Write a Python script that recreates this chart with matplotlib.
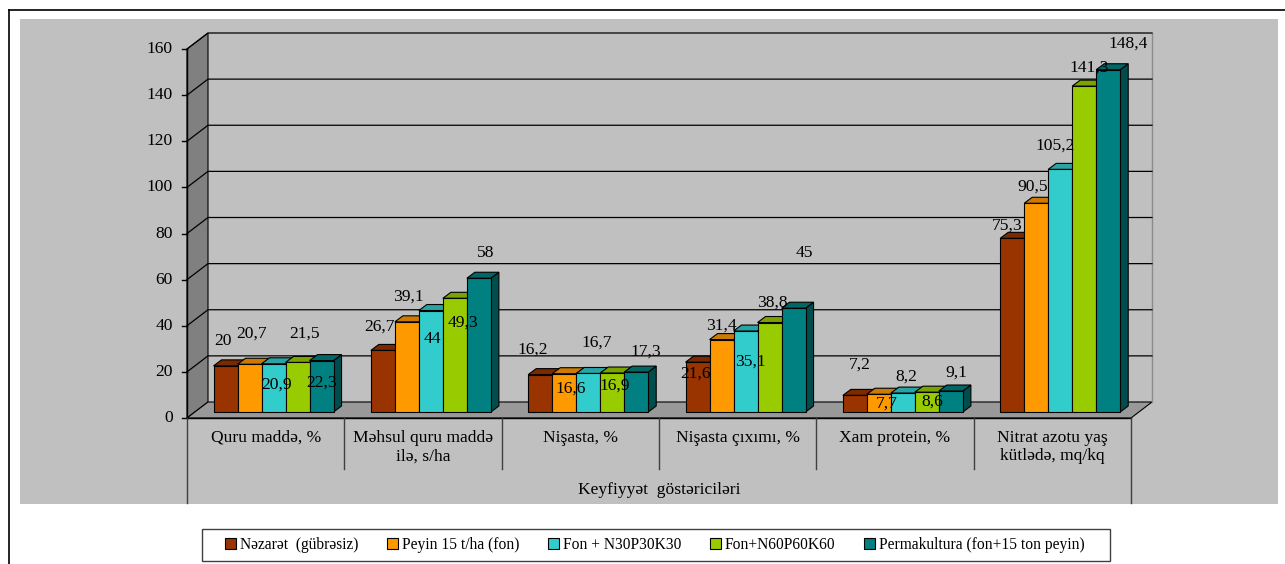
import matplotlib.pyplot as plt
from matplotlib.patches import Polygon, Rectangle, Patch
from matplotlib.colors import to_rgb

plt.rcParams['font.family'] = ['Liberation Serif', 'DejaVu Serif']

categories = ['Quru maddə, %', 'Məhsul quru maddə\nilə, s/ha', 'Nişasta, %',
              'Nişasta çıxımı, %', 'Xam protein, %', 'Nitrat azotu yaş\nkütlədə, mq/kq']
series_names = ['Nəzarət  (gübrəsiz)', 'Peyin 15 t/ha (fon)', 'Fon + N30P30K30',
                'Fon+N60P60K60', 'Permakultura (fon+15 ton peyin)']
nezaret = [20, 26.7, 16.2, 21.6, 7.2, 75.3]
peyin = [20.7, 39.1, 16.6, 31.4, 7.7, 90.5]
fon_n30 = [20.9, 44, 16.7, 35.1, 8.2, 105.2]
fon_n60 = [21.5, 49.3, 16.9, 38.8, 8.6, 141.3]
permakultura = [22.3, 58, 17.3, 45, 9.1, 148.4]
y_ticks = [0, 20, 40, 60, 80, 100, 120, 140, 160]
axis_title = 'Keyfiyyət  göstəriciləri'

series = [nezaret, peyin, fon_n30, fon_n60, permakultura]
colors = ['#993300', '#FF9900', '#33CCCC', '#99CC00', '#008080']

# data label nudges in pixels (dx, dy from the top-front centre of each bar)
label_dx = [[-3, 2, 3, 7, 0], [-3, 2, 1, 8, 7], [-7, 6, 9, 3, 10],
            [-2, 0, 5, 3, 11], [5, 8, 3, 5, 5], [-5, -4, -5, 5, 20]]
label_dy = [[-25, -31, 21, -29, 22], [-24, -25, 28, 24, -25], [-25, 15, -31, 13, -20],
            [11, -14, 31, -20, -55], [-31, 9, -16, 9, -18], [-13, -17, -24, -18, -26]]

W, H, DPI = 1285, 564, 100
fig = plt.figure(figsize=(W / DPI, H / DPI), dpi=DPI)


def fx(x):
    return x / W


def fy(y):
    return 1 - y / H


# outer frame and grey chart area
fig.add_artist(plt.Line2D([fx(9), fx(9)], [fy(10), fy(564)], color='black', lw=1.2))
fig.add_artist(plt.Line2D([fx(9), fx(1285)], [fy(10), fy(10)], color='black', lw=1.2))
fig.add_artist(Rectangle((fx(20), fy(504)), fx(1258), 485 / H, facecolor='#C0C0C0',
                         edgecolor='none', transform=fig.transFigure, zorder=-10))

ax = fig.add_axes([fx(187), fy(418), fx(944), 369 / H])
ax.set_zorder(1)
ymax = 160
n = len(categories)
ax.set_xlim(0, n)
ax.set_ylim(0, ymax)
ax.axis('off')

ux = n / 944          # data units per pixel, x
uy = ymax / 369       # data units per pixel, y
DX, DY = 21 * ux, 16 * uy      # wall depth
f0 = 6 / 16                    # bars start this far back on the floor
BDX, BDY = 8 * ux, 6 * uy      # bar depth
BW = 24 * ux                   # bar width
FS = 12.6


def shade(c, k):
    r, g, b = to_rgb(c)
    return (r * k, g * k, b * k)


# walls and floor
ax.add_patch(Polygon([(DX, DY), (n + DX, DY), (n + DX, ymax + DY), (DX, ymax + DY)],
                     facecolor='#C0C0C0', edgecolor='none', clip_on=False, zorder=0))
ax.add_patch(Polygon([(0, 0), (DX, DY), (DX, ymax + DY), (0, ymax)],
                     facecolor='#808080', edgecolor='black', lw=0.8, clip_on=False, zorder=1))
ax.add_patch(Polygon([(0, 0), (n, 0), (n + DX, DY), (DX, DY)],
                     facecolor='#999999', edgecolor='black', lw=0.8, clip_on=False, zorder=1))
ax.plot([n + DX, n + DX], [DY, ymax + DY], color='#8C8C8C', lw=1, clip_on=False, zorder=1)

for t in y_ticks[1:]:
    ax.plot([0, DX, n + DX], [t, t + DY, t + DY], color='black', lw=0.9,
            clip_on=False, zorder=1)

# value axis
ax.plot([0, 0], [0, ymax], color='black', lw=1, clip_on=False, zorder=2)
for t in y_ticks:
    ax.plot([-5 * ux, 0], [t, t], color='black', lw=1, clip_on=False, zorder=2)
    ax.text(-14 * ux, t, str(t), ha='right', va='center', fontsize=FS)

# category axis with separators
ax.plot([0, n], [0, 0], color='black', lw=1, clip_on=False, zorder=2)
for g in range(1, n):
    ax.plot([g, g], [0, -51 * uy], color='#404040', lw=1, clip_on=False)
for g in (0, n):
    ax.plot([g, g], [0, -85 * uy], color='#404040', lw=1, clip_on=False)
for g, cat in enumerate(categories):
    ax.text(g + 0.5, -12 * uy, cat, ha='center', va='top', fontsize=FS,
            linespacing=1.2)
ax.text(n / 2, -72 * uy, axis_title, ha='center', va='center', fontsize=FS)

# 3-D bars
ns = len(series)
for g in range(n):
    for j, vals in enumerate(series):
        v = vals[g]
        x0 = g + 0.5 - ns * BW / 2 + j * BW + f0 * DX
        y0 = f0 * DY
        z = 3 + g * ns + j
        ax.add_patch(Polygon([(x0 + BW, y0), (x0 + BW + BDX, y0 + BDY),
                              (x0 + BW + BDX, y0 + v + BDY), (x0 + BW, y0 + v)],
                             facecolor=shade(colors[j], 0.6), edgecolor='black',
                             lw=0.8, clip_on=False, zorder=z))
        ax.add_patch(Polygon([(x0, y0 + v), (x0 + BW, y0 + v),
                              (x0 + BW + BDX, y0 + v + BDY), (x0 + BDX, y0 + v + BDY)],
                             facecolor=shade(colors[j], 0.8), edgecolor='black',
                             lw=0.8, clip_on=False, zorder=z))
        ax.add_patch(Rectangle((x0, y0), BW, v, facecolor=colors[j], edgecolor='black',
                               lw=0.8, clip_on=False, zorder=z))
        ax.annotate(f'{v:g}'.replace('.', ','), xy=(x0 + BW / 2, y0 + v),
                    xytext=(label_dx[g][j] * 0.72, -label_dy[g][j] * 0.72),
                    textcoords='offset points', ha='center', va='center',
                    fontsize=FS, zorder=100, annotation_clip=False)

# legend
fig.add_artist(Rectangle((fx(202), fy(561)), fx(908), 32 / H, facecolor='white',
                         edgecolor='#404040', lw=1, transform=fig.transFigure, zorder=2))
handles = [Patch(facecolor=c, edgecolor='black', lw=0.8) for c in colors]
leg = fig.legend(handles, series_names, loc='center', bbox_to_anchor=(fx(655), fy(545)),
                 ncol=ns, fontsize=11.2, frameon=False,
                 handlelength=0.7, handleheight=0.7, handletextpad=0.25,
                 columnspacing=1.85)
leg.set_zorder(3)

fig.savefig('out.png', dpi=DPI)
